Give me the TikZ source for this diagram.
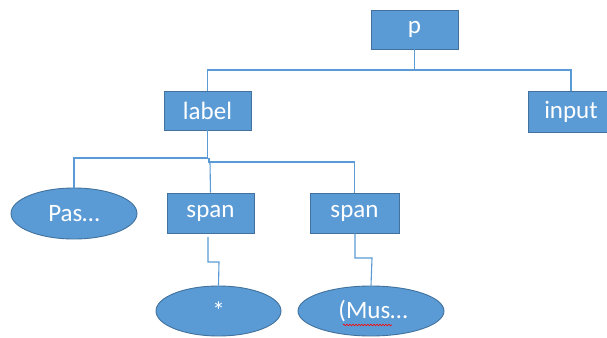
\documentclass[tikz,border=0pt]{standalone}
\usepackage{fontspec}
\setmainfont{Carlito}
\usetikzlibrary{shapes.geometric,decorations.pathmorphing}
\definecolor{boxfill}{HTML}{5B9BD5}
\definecolor{boxedge}{HTML}{41719C}
\definecolor{wire}{HTML}{5B9BD5}
\tikzset{
  tagbox/.style={rectangle,draw=boxedge,fill=boxfill,line width=0.9pt,text=white,font=\fontsize{25}{27}\selectfont,inner sep=0pt,anchor=center},
  leaf/.style={ellipse,draw=boxedge,fill=boxfill,line width=0.9pt,text=white,font=\fontsize{25}{27}\selectfont,inner sep=0pt,anchor=center},
  wireline/.style={draw=wire,line width=1.1pt},
}
\begin{document}
\begin{tikzpicture}[x=1pt,y=-1pt]
\clip (0,0) rectangle (607,337);
\fill[white] (0,0) rectangle (607,337);
% nodes
\node[tagbox,minimum width=87pt,minimum height=39pt] (p) at (414.5,29.5) {p};
\node[tagbox,minimum width=87pt,minimum height=39pt] (label) at (207.5,110.5) {label};
\node[tagbox,minimum width=86pt,minimum height=41pt] (input) at (571,111.5) {input};
\node[leaf,minimum width=126pt,minimum height=51pt] (pas) at (74,213.5) {Pas…};
\node[tagbox,minimum width=87pt,minimum height=40pt] (span1) at (210.5,213) {span};
\node[tagbox,minimum width=89pt,minimum height=40pt] (span2) at (354.5,213) {span};
\node[leaf,minimum width=125pt,minimum height=50pt] (star) at (218.5,311) {*};
\node[leaf,minimum width=146pt,minimum height=50pt] (mus) at (371,311) {\hspace{4pt}(Mus…};
% red spell-check underline
\draw[red,line width=0.6pt,decorate,decoration={snake,amplitude=0.8pt,segment length=3pt}] (343,325) -- (392,325);
% coordinates for connector gaps
\coordinate (s1b) at (208,237);
% connectors
\draw[wireline] (p.south) -- (414.5,70) -| (label.north);
\draw[wireline] (414.5,70) -| (input.north);
\draw[wireline] (label.south) -- (207.5,158) -| (pas.north);
\draw[wireline] (209,158) -- (209,162) -| (span2.north);
\draw[wireline] (210,162) -- (span1.north);
\draw[wireline] (s1b) -- (208,262) -- (219,262) -- (star.north);
\draw[wireline] (span2.south -| 355,0) -- (355,258) -- (372,258) -- (mus.north);
\end{tikzpicture}
\end{document}
